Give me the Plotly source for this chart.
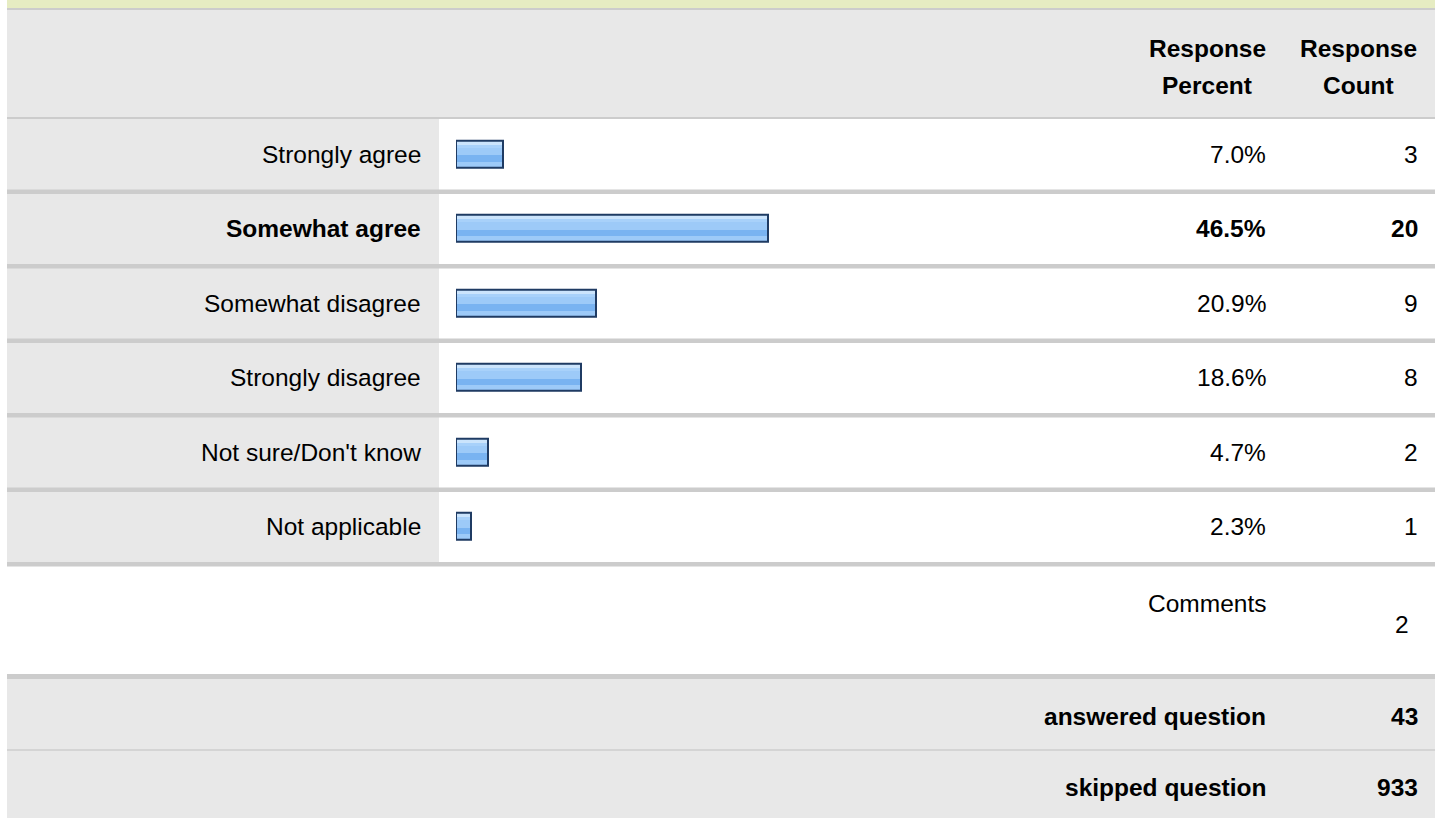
import plotly.graph_objects as go

# survey answers
answers = ["Strongly agree", "Somewhat agree", "Somewhat disagree",
           "Strongly disagree", "Not sure/Don't know", "Not applicable"]
percents = [7.0, 46.5, 20.9, 18.6, 4.7, 2.3]
counts = [3, 20, 9, 8, 2, 1]
comments_label = "Comments"
comments_count = 2
answered = 43
skipped = 933

W, H = 1435, 818
ROW = 74.5          # row pitch in px
FIRST = 154         # centre of first row in px
FONT = "Liberation Sans, Arial, sans-serif"
FS = 24.5


def px(x):
    return x / W


def py(y):
    return 1 - y / H


fig = go.Figure()

# bar stripes (px offsets from row centre, downwards) and colours
bands = [(-13.5, -9.5, "#cbe4fc"), (-9.5, -6.5, "#a8d1fa"), (-6.5, 1, "#9dcaf8"),
         (1, 7.5, "#79b3f1"), (7.5, 13.5, "#9dcaf8")]
rows = list(range(len(answers)))
for top, bot, col in bands:
    fig.add_trace(go.Bar(
        x=percents, y=rows, orientation="h",
        offset=top / ROW, width=(bot - top) / ROW,
        marker=dict(color=col, line=dict(width=0)),
        hoverinfo="skip", showlegend=False,
    ))
# outline
fig.add_trace(go.Bar(
    x=percents, y=rows, orientation="h", width=27 / ROW,
    marker=dict(color="rgba(0,0,0,0)", line=dict(width=2, color="#1f3b63")),
    hovertemplate="%{x:.1f}%<extra></extra>", showlegend=False,
))

shapes = []


def rect(x0, y0, x1, y1, color):
    shapes.append(dict(type="rect", xref="paper", yref="paper",
                       x0=px(x0), x1=px(x1), y0=py(y1), y1=py(y0),
                       fillcolor=color, line=dict(width=0), layer="below"))


rect(7, 0, W, 8, "#e6ecc2")
rect(7, 8, W, 10, "#cccccc")
rect(7, 10, W, 117, "#e8e8e8")
rect(7, 117, W, 119, "#cccccc")
# label column
rect(7, 119, 439, 562, "#e8e8e8")
# row separators
for k in range(1, len(answers) + 1):
    yc = FIRST + ROW * (k - 1) + 35.5
    rect(7, yc, W, yc + 4.5, "#cccccc")
# footer
rect(7, 674, W, 679, "#cccccc")
rect(7, 679, W, H, "#e8e8e8")
rect(7, 749, W, 751, "#d4d4d4")

ann = []


def text(x, y, s, anchor="right", bold=False, yref="paper"):
    ann.append(dict(x=px(x), y=(py(y) if yref == "paper" else y), xref="paper", yref=yref,
                    text=f"<b>{s}</b>" if bold else s, showarrow=False,
                    xanchor=anchor, yanchor="middle",
                    font=dict(family=FONT, size=FS, color="#000000")))


text(1207, 48, "Response", "center", True)
text(1207, 85, "Percent", "center", True)
text(1358, 48, "Response", "center", True)
text(1358, 85, "Count", "center", True)

top = max(percents)
for i, (a, p, c) in enumerate(zip(answers, percents, counts)):
    b = p == top
    text(423, i, a, bold=b, yref="y")
    text(1268, i, f"{p:.1f}%", bold=b, yref="y")
    text(1420, i, str(c), bold=b, yref="y")

text(1268, 603, comments_label)
text(1411, 624, str(comments_count))
text(1268, 716, "answered question", bold=True)
text(1420, 716, str(answered), bold=True)
text(1268, 787, "skipped question", bold=True)
text(1420, 787, str(skipped), bold=True)

x0 = 456
scale = 6.72  # px per percent
fig.update_layout(
    width=W, height=H, margin=dict(l=0, r=0, t=0, b=0),
    paper_bgcolor="white", plot_bgcolor="rgba(0,0,0,0)",
    barmode="overlay", bargap=0,
    xaxis=dict(domain=[px(x0), 1], range=[0, (W - x0) / scale],
               visible=False, fixedrange=True),
    yaxis=dict(domain=[py(FIRST + ROW * 5.5), py(FIRST - ROW * 0.5)],
               range=[len(answers) - 0.5, -0.5], visible=False, fixedrange=True),
    shapes=shapes, annotations=ann,
)

fig.write_html("out.html", config={"displayModeBar": False},
               post_script="document.body.style.margin='0';document.body.style.overflow='hidden';")
